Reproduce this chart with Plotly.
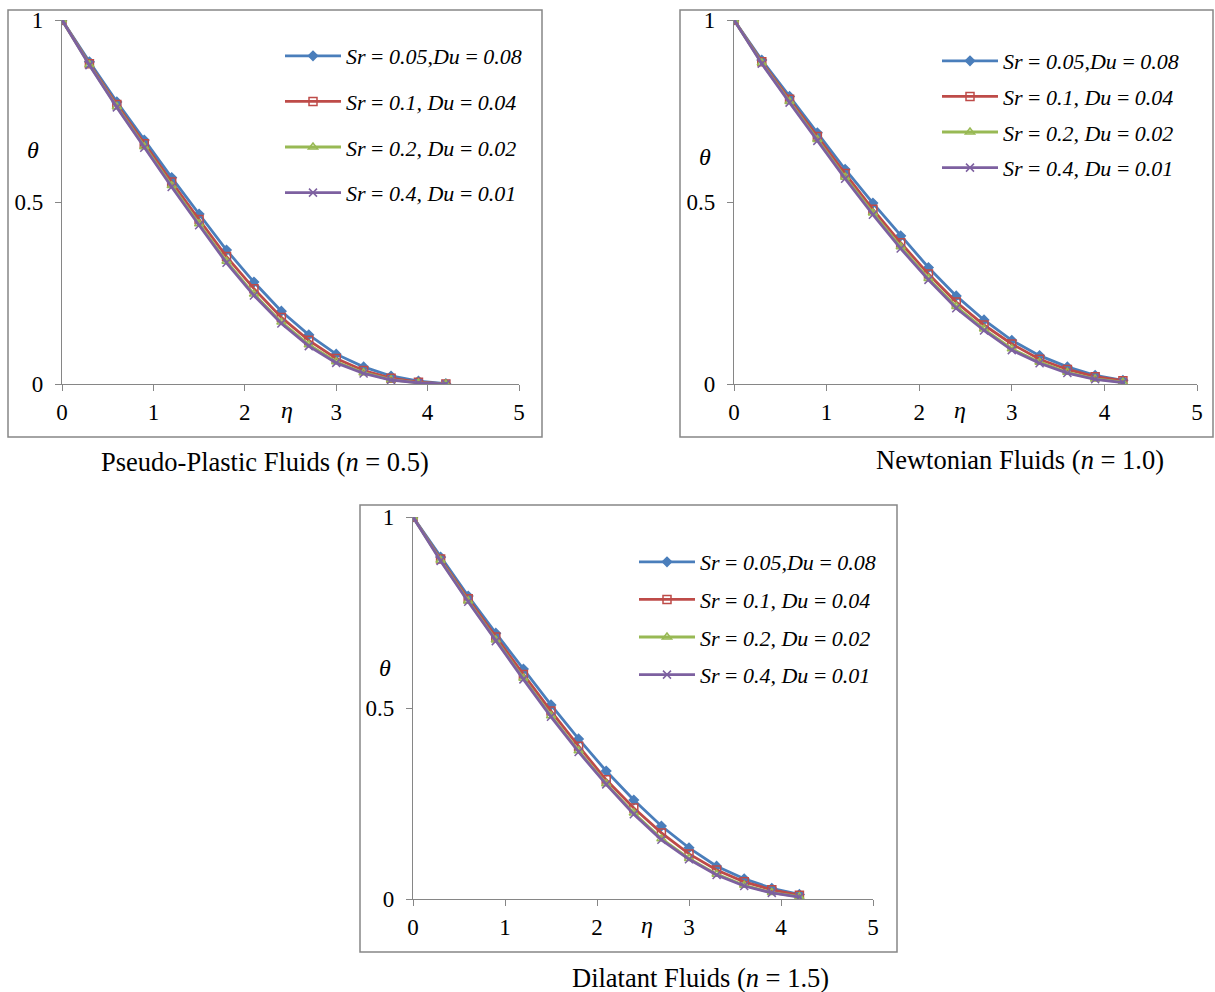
import plotly.graph_objects as go

W, H = 1215, 992

eta = [0, 0.3, 0.6, 0.9, 1.2, 1.5, 1.8, 2.1, 2.4, 2.7, 3.0, 3.3, 3.6, 3.9, 4.2]

series_names = ["<i>Sr</i> = <i>0.05,Du</i> = <i>0.08</i>",
                "<i>Sr</i> = <i>0.1, Du</i> = <i>0.04</i>",
                "<i>Sr</i> = <i>0.2, Du</i> = <i>0.02</i>",
                "<i>Sr</i> = <i>0.4, Du</i> = <i>0.01</i>"]

# Pseudo-plastic fluids (n = 0.5)
pp_sr005 = [1, 0.885, 0.775, 0.670, 0.567, 0.467, 0.368, 0.280, 0.200, 0.135, 0.082, 0.047, 0.022, 0.008, 0.001]
pp_sr01 = [1, 0.880, 0.768, 0.660, 0.555, 0.452, 0.350, 0.262, 0.183, 0.120, 0.070, 0.037, 0.016, 0.005, 0.000]
pp_sr02 = [1, 0.877, 0.762, 0.652, 0.545, 0.440, 0.337, 0.247, 0.170, 0.108, 0.061, 0.031, 0.012, 0.003, 0.000]
pp_sr04 = [1, 0.876, 0.760, 0.649, 0.541, 0.436, 0.333, 0.243, 0.166, 0.104, 0.058, 0.029, 0.011, 0.003, 0.000]

# Newtonian fluids (n = 1.0)
nw_sr005 = [1, 0.890, 0.790, 0.690, 0.590, 0.497, 0.407, 0.320, 0.242, 0.176, 0.120, 0.078, 0.047, 0.024, 0.010]
nw_sr01 = [1, 0.885, 0.782, 0.680, 0.578, 0.480, 0.388, 0.302, 0.225, 0.162, 0.110, 0.068, 0.040, 0.020, 0.009]
nw_sr02 = [1, 0.882, 0.776, 0.672, 0.568, 0.470, 0.377, 0.290, 0.213, 0.151, 0.097, 0.060, 0.032, 0.014, 0.005]
nw_sr04 = [1, 0.880, 0.773, 0.668, 0.564, 0.465, 0.372, 0.286, 0.208, 0.147, 0.093, 0.057, 0.030, 0.013, 0.004]

# Dilatant fluids (n = 1.5)
dl_sr005 = [1, 0.895, 0.793, 0.696, 0.602, 0.508, 0.419, 0.335, 0.259, 0.191, 0.134, 0.086, 0.053, 0.028, 0.012]
dl_sr01 = [1, 0.890, 0.786, 0.686, 0.588, 0.492, 0.400, 0.312, 0.238, 0.173, 0.118, 0.076, 0.045, 0.024, 0.010]
dl_sr02 = [1, 0.887, 0.780, 0.678, 0.578, 0.480, 0.388, 0.302, 0.225, 0.158, 0.106, 0.065, 0.036, 0.017, 0.006]
dl_sr04 = [1, 0.885, 0.778, 0.675, 0.575, 0.477, 0.385, 0.300, 0.222, 0.155, 0.104, 0.063, 0.034, 0.016, 0.005]

panels = [
    dict(data=[pp_sr005, pp_sr01, pp_sr02, pp_sr04],
         caption="Pseudo-Plastic Fluids (<i>n</i> = 0.5)",
         plot=(62, 519, 20, 384), frame=(8, 542, 10, 437),
         legend=(280, 35), gap=14, theta=(33, 150), etapos=(287, 410), cap=(265, 462)),
    dict(data=[nw_sr005, nw_sr01, nw_sr02, nw_sr04],
         caption="Newtonian Fluids (<i>n</i> = 1.0)",
         plot=(734, 1197, 20, 384), frame=(680, 1213, 10, 437),
         legend=(937, 40), gap=4, theta=(705, 157), etapos=(960, 410), cap=(1020, 460)),
    dict(data=[dl_sr005, dl_sr01, dl_sr02, dl_sr04],
         caption="Dilatant Fluids (<i>n</i> = 1.5)",
         plot=(413, 873, 517, 899), frame=(360, 897, 505, 952),
         legend=(634, 541), gap=6, theta=(385, 668), etapos=(647, 925), cap=(700, 978)),
]

colors = ["#4A7EBB", "#BE4B48", "#98B954", "#7D60A0"]
symbols = ["diamond", "square-open", "triangle-up-open", "x-thin-open"]
msizes = [7, 8, 8, 8]

FONT = "Liberation Serif, Times New Roman, serif"
AX = "#868686"

fig = go.Figure()
shapes = []
annotations = []
layout = {}

for p_i, p in enumerate(panels):
    k = p_i + 1
    xs = "" if k == 1 else str(k)
    x0, x1, y0, y1 = p["plot"]
    leg = "legend" if k == 1 else f"legend{k}"
    for s_i, vals in enumerate(p["data"]):
        fig.add_trace(go.Scatter(
            x=eta, y=vals, mode="lines+markers",
            name=series_names[s_i],
            line=dict(color=colors[s_i], width=2.8),
            marker=dict(symbol=symbols[s_i], size=msizes[s_i], color=colors[s_i],
                        line=dict(color=colors[s_i], width=1.5)),
            xaxis="x" + xs, yaxis="y" + xs,
            legend=leg, legendgroup=f"g{k}_{s_i}",
            showlegend=True,
        ))
    layout["xaxis" + xs] = dict(
        domain=[x0 / W, x1 / W], range=[0, 5], anchor="y" + xs,
        tickvals=[0, 1, 2, 3, 4, 5], ticktext=["0", "1", "2", "3", "4", "5"],
        showline=True, linecolor=AX, linewidth=1.3, ticks="outside", tickcolor=AX,
        ticklen=6, tickwidth=1.3, showgrid=False, zeroline=False, automargin=False,
        tickfont=dict(family=FONT, size=23, color="black"), ticklabelstandoff=1,
    )
    layout["yaxis" + xs] = dict(
        domain=[1 - y1 / H, 1 - y0 / H], range=[0, 1], anchor="x" + xs,
        tickvals=[0, 0.5, 1], ticktext=["0", "0.5", "1"],
        showline=True, linecolor=AX, linewidth=1.3, ticks="outside", tickcolor=AX,
        ticklen=6, tickwidth=1.3, showgrid=False, zeroline=False, automargin=False,
        tickfont=dict(family=FONT, size=23, color="black"), ticklabelstandoff=7,
    )
    lx, ly = p["legend"]
    layout[leg] = dict(
        x=lx / W, y=1 - ly / H, xanchor="left", yanchor="top",
        xref="paper", yref="paper",
        bgcolor="rgba(0,0,0,0)", borderwidth=0,
        font=dict(family=FONT, size=22, color="black"),
        itemwidth=56, tracegroupgap=p["gap"], traceorder="grouped",
    )
    fx0, fx1, fy0, fy1 = p["frame"]
    shapes.append(dict(type="rect", xref="paper", yref="paper",
                       x0=fx0 / W, x1=fx1 / W, y0=1 - fy1 / H, y1=1 - fy0 / H,
                       line=dict(color=AX, width=1.5), fillcolor="rgba(0,0,0,0)", layer="below"))
    tx, ty = p["theta"]
    annotations.append(dict(text="<i>θ</i>", x=tx / W, y=1 - ty / H, xref="paper", yref="paper",
                            xanchor="center", yanchor="middle",
                            showarrow=False, font=dict(family=FONT, size=24, color="black")))
    ex, ey = p["etapos"]
    annotations.append(dict(text="<i>η</i>", x=ex / W, y=1 - ey / H, xref="paper", yref="paper",
                            xanchor="center", yanchor="middle",
                            showarrow=False, font=dict(family=FONT, size=24, color="black")))
    cx, cy = p["cap"]
    annotations.append(dict(text=p["caption"], x=cx / W, y=1 - cy / H, xref="paper", yref="paper",
                            xanchor="center", yanchor="middle",
                            showarrow=False, font=dict(family=FONT, size=26.5, color="black")))

fig.update_layout(
    width=W, height=H, margin=dict(l=0, r=0, t=0, b=0, pad=0, autoexpand=False),
    paper_bgcolor="white", plot_bgcolor="white",
    shapes=shapes, annotations=annotations, showlegend=True,
    **layout,
)

fig.write_html("out.html", config={"displayModeBar": False},
               post_script="document.body.style.margin='0';document.body.style.overflow='hidden';")
